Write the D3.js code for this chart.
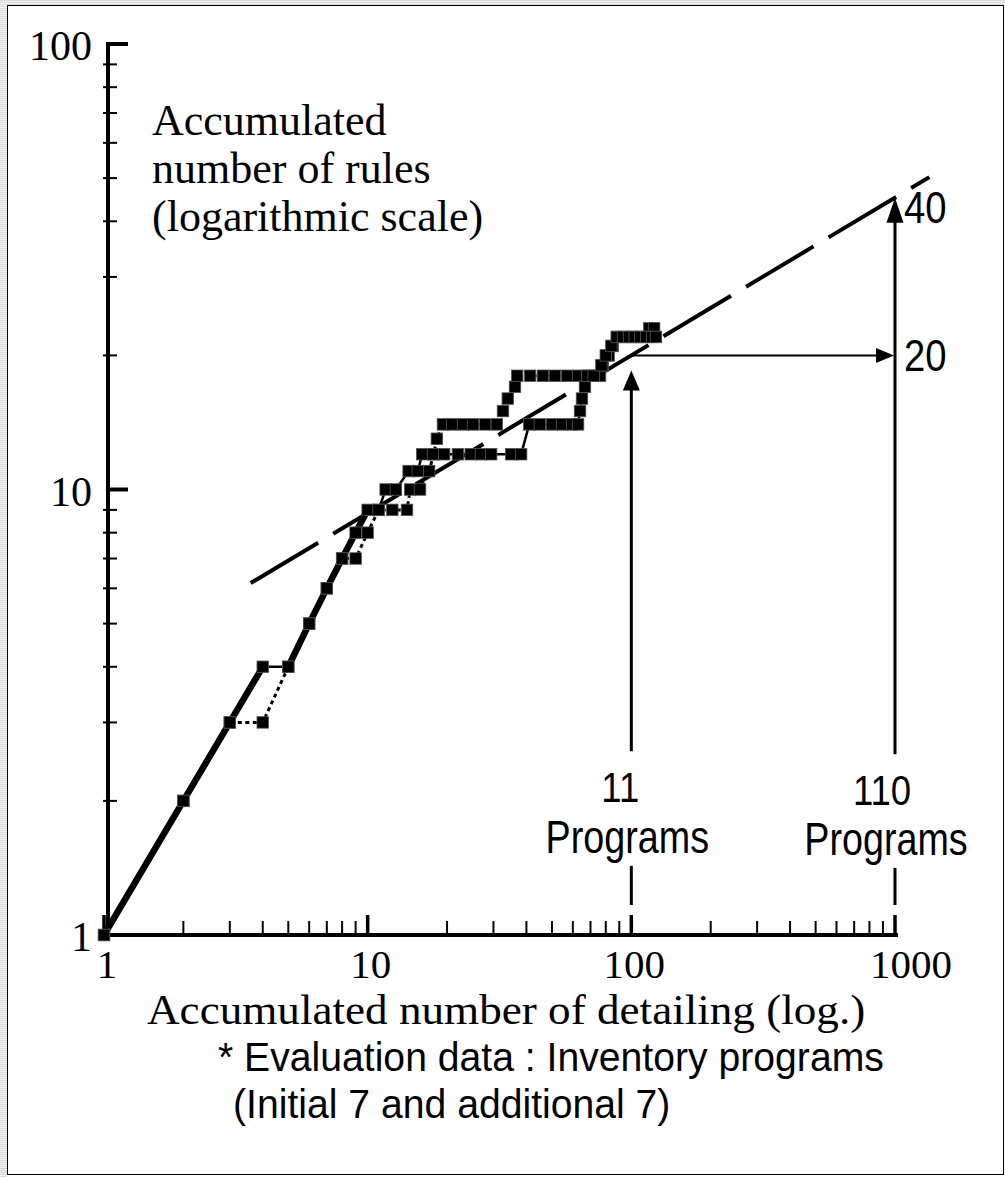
<!DOCTYPE html>
<html>
<head>
<meta charset="utf-8">
<script src="https://cdn.jsdelivr.net/npm/d3@7"></script>
<style>
  body { margin: 0; background: #fff; }
  svg { display: block; }
</style>
</head>
<body>
<svg id="chart" width="1005" height="1177"></svg>
<script>
// Solid series: accumulated rules (y) against accumulated detailing (x)
const solidX = [1, 2, 3, 4, 5, 6, 7, 8, 9, 10, 11, 11.7, 12.8, 14.3, 15.5, 16.1, 17.7, 19.5, 22.0, 24.6, 26.9, 29.4, 35.0, 38.2,
                41, 45, 50, 54.6, 59.6, 62.8, 63.9, 65, 66.7, 68, 72, 77, 80, 84, 88, 93, 98, 103, 108, 114, 120, 124];
const solidY = [1, 2, 3, 4, 4, 5, 6, 7, 8, 9, 9, 10, 10, 11, 11, 12, 12, 12, 12, 12, 12, 12, 12, 12,
                14, 14, 14, 14, 14, 14, 15, 16, 17, 18, 18, 19, 20, 21, 22, 22, 22, 22, 22, 22, 22, 22];

// Dotted series: same programs, other order
const dottedX = [1, 2, 3, 4, 5, 6, 7, 8, 9, 10, 11, 12.4, 14.1, 14.5, 15.8, 17.1, 17.8, 18.3, 19.3, 20.9, 23.0, 25.1, 27.9, 30.9,
                 32.6, 34.0, 36.2, 36.9, 41.3, 46.2, 51.3, 57.0, 62.8, 69.7, 76.1, 78, 82, 85, 88.5, 100, 110, 117, 122];
const dottedY = [1, 2, 3, 3, 4, 5, 6, 7, 7, 8, 9, 9, 9, 10, 10, 11, 12, 13, 14, 14, 14, 14, 14, 14,
                 15, 16, 17, 18, 18, 18, 18, 18, 18, 18, 18, 19, 20, 21, 22, 22, 22, 23, 23];

// Axis ticks
const xMajorTicks = [1, 10, 100, 1000];
const xMinorTicks = [2, 3, 4, 5, 6, 7, 8, 9, 20, 30, 40, 50, 60, 70, 80, 90, 200, 300, 400, 500, 600, 700, 800, 900];
const yMajorTicks = [1, 10, 100];
const yMinorTicks = [2, 3, 4, 5, 6, 7, 8, 9, 20, 30, 40, 50, 60, 70, 80, 90];

// Power-law trend through the data: log10(y) = log10(fitAt100) + fitSlope * (log10(x) - 2)
const fitSlope = 0.354;
const fitAt100 = 20.0;
const fitFrom = 3.6;
const fitTo = 1350;

// Forecast marks on the trend
const forecastX = [100, 1000];
const forecastNumbers = ["11", "110"];
const forecastValueLabels = ["20", "40"];

const yTitleLines = ["Accumulated", "number of rules", "(logarithmic scale)"];
const xTitle = "Accumulated number of detailing (log.)";
const noteLines = ["* Evaluation data : Inventory programs", "(Initial 7 and additional 7)"];

const svg = d3.select("#chart");
const W = 1005, H = 1177;

const serif = "'Liberation Serif', 'Times New Roman', serif";
const sans = "'Liberation Sans', Arial, sans-serif";

// Frame of the slide
const defs = svg.append("defs");
const hatch = defs.append("pattern").attr("id", "hatch").attr("width", 4).attr("height", 2)
  .attr("patternUnits", "userSpaceOnUse");
hatch.append("rect").attr("width", 4).attr("height", 2).attr("fill", "#f4f4f4");
hatch.append("rect").attr("width", 4).attr("height", 1).attr("fill", "#d8d8d8");
svg.append("rect").attr("x", 0).attr("y", 0).attr("width", 7).attr("height", H).attr("fill", "url(#hatch)");
svg.append("rect").attr("x", 0).attr("y", 0).attr("width", W).attr("height", 5).attr("fill", "url(#hatch)");
svg.append("rect").attr("x", 7.5).attr("y", 5.5).attr("width", W - 9).attr("height", H - 8)
  .attr("fill", "none").attr("stroke", "#000").attr("stroke-width", 1);

const x = d3.scaleLog().domain([1, 1000]).range([104, 895]);
const y = d3.scaleLog().domain([1, 100]).range([935, 44]);
const axisX = x(1) + 4;

const g = svg.append("g");

// Text scaled horizontally around its anchor point
function scaledText(parent, str, px, py, family, size, sx, anchor) {
  return parent.append("text")
    .attr("transform", `translate(${px},${py}) scale(${sx},1)`)
    .attr("text-anchor", anchor || "start")
    .attr("font-family", family).attr("font-size", size)
    .text(str);
}
const sansText = (parent, str, px, py, size, sx, anchor) =>
  scaledText(parent, str, px, py, sans, size, sx, anchor);

// ---- Axes ----
g.append("line").attr("x1", axisX).attr("x2", axisX).attr("y1", y(1) + 1).attr("y2", y(100) - 2)
  .attr("stroke", "#000").attr("stroke-width", 4);
g.append("line").attr("x1", axisX - 2).attr("x2", x(1000) + 3).attr("y1", y(1)).attr("y2", y(1))
  .attr("stroke", "#000").attr("stroke-width", 4);

g.selectAll("line.yminor").data(yMinorTicks).join("line").attr("class", "yminor")
  .attr("x1", axisX - 5).attr("x2", axisX + 9).attr("y1", d => y(d)).attr("y2", d => y(d))
  .attr("stroke", "#000").attr("stroke-width", 2);
g.selectAll("line.ymajor").data(yMajorTicks).join("line").attr("class", "ymajor")
  .attr("x1", axisX - 2).attr("x2", axisX + 20).attr("y1", d => y(d)).attr("y2", d => y(d))
  .attr("stroke", "#000").attr("stroke-width", 4);

g.selectAll("line.xminor").data(xMinorTicks).join("line").attr("class", "xminor")
  .attr("x1", d => x(d)).attr("x2", d => x(d)).attr("y1", y(1)).attr("y2", y(1) - 14)
  .attr("stroke", "#000").attr("stroke-width", 2);
g.selectAll("line.xmajor").data(xMajorTicks).join("line").attr("class", "xmajor")
  .attr("x1", d => x(d)).attr("x2", d => x(d)).attr("y1", y(1)).attr("y2", y(1) - 20)
  .attr("stroke", "#000").attr("stroke-width", 3.5);

g.selectAll("text.ylab").data(yMajorTicks).join("text").attr("class", "ylab")
  .attr("x", axisX - 16).attr("y", d => y(d) + 16)
  .attr("text-anchor", "end").attr("font-family", serif).attr("font-size", 42)
  .text(d => d);
g.selectAll("text.xlab").data(xMajorTicks).join("text").attr("class", "xlab")
  .attr("x", d => x(d) + (d === 1000 ? 16 : 3)).attr("y", y(1) + 43)
  .attr("text-anchor", "middle").attr("font-family", serif).attr("font-size", 41)
  .text(d => d);

// Axis titles
g.append("text").attr("x", 152).attr("y", 135).attr("font-family", serif).attr("font-size", 44)
  .selectAll("tspan").data(yTitleLines).join("tspan")
  .attr("x", 152).attr("dy", (d, i) => i === 0 ? 0 : 48).text(d => d);
scaledText(g, xTitle, 147, 1024, serif, 42, 1.075);

// ---- Trend line ----
const fit = v => Math.pow(10, Math.log10(fitAt100) + fitSlope * (Math.log10(v) - 2));
g.append("line")
  .attr("x1", x(fitFrom)).attr("y1", y(fit(fitFrom)))
  .attr("x2", x(fitTo)).attr("y2", y(fit(fitTo)))
  .attr("stroke", "#000").attr("stroke-width", 4)
  .attr("stroke-dasharray", "78.7 17.5");

// ---- Series lines ----
const solid = solidX.map((v, i) => ({ x: v, y: solidY[i] }));
const dotted = dottedX.map((v, i) => ({ x: v, y: dottedY[i] }));

g.append("path").datum(dotted)
  .attr("d", d3.line().x(d => x(d.x)).y(d => y(d.y)))
  .attr("fill", "none").attr("stroke", "#000").attr("stroke-width", 3)
  .attr("stroke-dasharray", "4 3.5");

g.selectAll("line.seg").data(d3.pairs(solid)).join("line").attr("class", "seg")
  .attr("x1", d => x(d[0].x)).attr("y1", d => y(d[0].y))
  .attr("x2", d => x(d[1].x)).attr("y2", d => y(d[1].y))
  .attr("stroke", "#000").attr("stroke-linecap", "round")
  .attr("stroke-width", d => (d[1].x <= 10 && d[1].y > d[0].y) ? 6.5 : 2.5);

// ---- Markers ----
const sq = 11.5;
g.selectAll("rect.mk").data(dotted.concat(solid)).join("rect").attr("class", "mk")
  .attr("x", d => x(d.x) - sq / 2).attr("y", d => y(d.y) - sq / 2)
  .attr("width", sq).attr("height", sq)
  .attr("fill", "#000").attr("stroke", "#555").attr("stroke-width", 0.8);

// ---- Forecast arrows ----
function arrowHead(px, py, dir, len, half) {
  // dir: "up" or "right"; tip at (px, py)
  const pts = dir === "up"
    ? [[px, py], [px - half, py + len], [px + half, py + len]]
    : [[px, py], [px - len, py - half], [px - len, py + half]];
  g.append("path").attr("d", "M" + pts.map(p => p.join(",")).join("L") + "Z").attr("fill", "#000");
}

const baseY = y(1) - 30;
// horizontal: from the 11-program point to the 110-program line at the same level
const hY = y(fit(forecastX[0]));
g.append("line").attr("x1", x(forecastX[0]) - 2).attr("x2", x(forecastX[1]) - 16)
  .attr("y1", hY).attr("y2", hY).attr("stroke", "#000").attr("stroke-width", 2);
arrowHead(x(forecastX[1]) - 1, hY, "right", 18, 7.5);

// vertical arrows, interrupted by their labels
forecastX.forEach((fx, i) => {
  const px = x(fx);
  const tipY = i === 0 ? hY + 15 : y(fit(fx));
  const hl = i === 0 ? 20 : 25;
  g.append("line").attr("x1", px).attr("x2", px).attr("y1", baseY).attr("y2", tipY + hl - 1)
    .attr("stroke", "#000").attr("stroke-width", 3);
  arrowHead(px, tipY, "up", hl, 8.5);

  const lab = g.append("g");
  sansText(lab, forecastNumbers[i], px - (i === 0 ? 11 : 13), i === 0 ? 802 : 805, 43, 0.85, "middle");
  sansText(lab, "Programs", px - (i === 0 ? 4 : 9), i === 0 ? 853 : 855, 46, 0.82, "middle");
  const bb = lab.node().getBBox();
  lab.insert("rect", "text").attr("x", bb.x - 4).attr("y", bb.y - 12)
    .attr("width", bb.width + 8).attr("height", bb.height + 15).attr("fill", "#fff");
});

// value labels at the right edge
const valueLevels = [fit(forecastX[0]), fit(forecastX[1])];
forecastValueLabels.forEach((lbl, i) => {
  sansText(g, lbl, x(forecastX[1]) + 9, y(valueLevels[i]) + (i === 0 ? 16 : 25), 45, 0.85);
});

// ---- Note ----
noteLines.forEach((line, i) => {
  sansText(g, line, i === 0 ? 218 : 233, i === 0 ? 1071 : 1118, 41, 0.955);
});
</script>
</body>
</html>
